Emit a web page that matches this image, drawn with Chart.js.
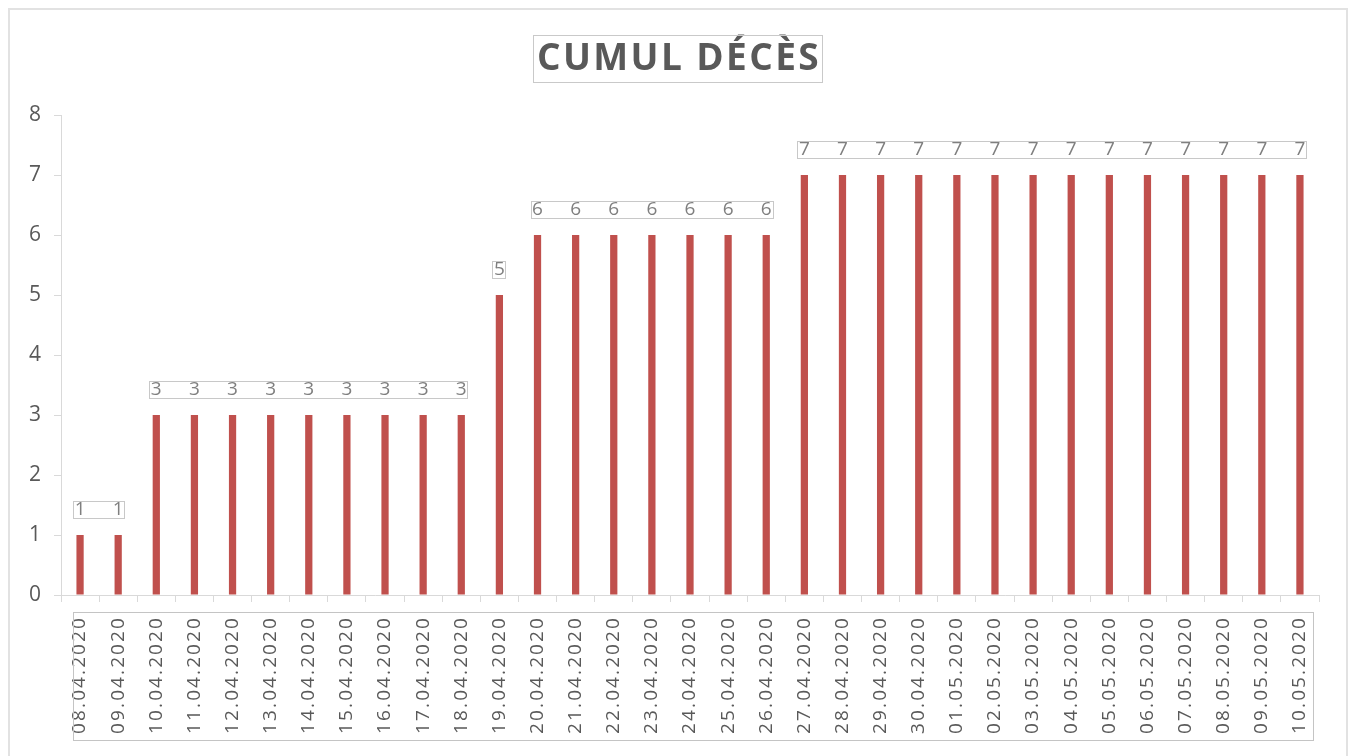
<!DOCTYPE html>
<html>
<head>
<meta charset="utf-8">
<script src="https://cdn.jsdelivr.net/npm/chart.js@4"></script>
<style>
  html, body { margin: 0; padding: 0; background: #ffffff; }
  #wrap { width: 1353px; height: 756px; position: relative; }
</style>
</head>
<body>
<div id="wrap"><canvas id="c"></canvas></div>
<script>
const TITLE = "CUMUL DÉCÈS";
const categories = [
  "08.04.2020","09.04.2020","10.04.2020","11.04.2020","12.04.2020","13.04.2020",
  "14.04.2020","15.04.2020","16.04.2020","17.04.2020","18.04.2020","19.04.2020",
  "20.04.2020","21.04.2020","22.04.2020","23.04.2020","24.04.2020","25.04.2020",
  "26.04.2020","27.04.2020","28.04.2020","29.04.2020","30.04.2020","01.05.2020",
  "02.05.2020","03.05.2020","04.05.2020","05.05.2020","06.05.2020","07.05.2020",
  "08.05.2020","09.05.2020","10.05.2020"
];
const deces = [
  1,1,3,3,3,3,3,3,3,3,3,5,6,6,6,6,6,6,6,7,7,7,7,7,7,7,7,7,7,7,7,7,7
];
const yTickMin = 0;
const yTickMax = 8;
const yTickStep = 1;

const decorPlugin = {
  id: 'decor',
  afterDraw(chart) {
    const ctx = chart.ctx;
    const xs = chart.scales.x, ys = chart.scales.y;
    ctx.save();
    // outer frame
    ctx.strokeStyle = '#e2e2e2';
    ctx.lineWidth = 2;
    ctx.strokeRect(9, 9, 1338, 770);

    // title
    ctx.font = 'bold 37px "Open Sans"';
    ctx.letterSpacing = '2.4px';
    ctx.fillStyle = '#595959';
    ctx.textAlign = 'center';
    ctx.textBaseline = 'middle';
    ctx.fillText(TITLE, 679, 59);
    ctx.letterSpacing = '0px';
    ctx.strokeStyle = '#c9c9c9';
    ctx.lineWidth = 1;
    ctx.strokeRect(533.5, 35.5, 289, 47);

    // x labels, rotated
    ctx.font = '19px "Open Sans"';
    ctx.letterSpacing = '2.1px';
    ctx.fillStyle = '#595959';
    ctx.textAlign = 'right';
    ctx.textBaseline = 'middle';
    const labTop = xs.top + 21;
    categories.forEach((lab, i) => {
      const x = xs.getPixelForValue(i);
      ctx.save();
      ctx.translate(x, labTop);
      ctx.rotate(-Math.PI / 2);
      ctx.fillText(lab, 0, 0);
      ctx.restore();
    });
    ctx.letterSpacing = '0px';
    ctx.strokeStyle = '#c4c4c4';
    ctx.lineWidth = 1;
    ctx.strokeRect(xs.left + 12.5, xs.top + 17.5, (xs.right - 6) - (xs.left + 12), 128);

    // data labels with group boxes
    ctx.font = '19px "Open Sans"';
    ctx.fillStyle = '#7f7f7f';
    ctx.textAlign = 'center';
    ctx.textBaseline = 'middle';
    let start = 0;
    for (let i = 0; i <= deces.length; i++) {
      if (i === deces.length || deces[i] !== deces[start]) {
        const v = deces[start];
        const y = ys.getPixelForValue(v) - 25;
        const x0 = xs.getPixelForValue(start);
        const x1 = xs.getPixelForValue(i - 1);
        ctx.strokeStyle = '#c8c8c8';
        ctx.strokeRect(Math.round(x0 - 7) + 0.5, Math.round(y - 9) + 0.5, Math.round(x1 - x0 + 13), 17);
        for (let k = start; k < i; k++) {
          ctx.fillText(String(deces[k]), xs.getPixelForValue(k), y);
        }
        start = i;
      }
    }
    ctx.restore();
  }
};

new Chart(document.getElementById('c'), {
  type: 'bar',
  data: {
    labels: categories,
    datasets: [{
      label: TITLE,
      data: deces,
      backgroundColor: '#c0504d',
      borderWidth: 0,
      barPercentage: 0.19,
      categoryPercentage: 1.0
    }]
  },
  options: {
    responsive: true,
    maintainAspectRatio: false,
    animation: false,
    layout: { padding: { left: 0, top: 115, right: 34, bottom: 0 } },
    plugins: {
      legend: { display: false },
      title: { display: false },
      tooltip: { enabled: false }
    },
    scales: {
      x: {
        offset: true,
        grid: { display: true, drawOnChartArea: false, drawTicks: true, tickLength: 7, color: '#d9d9d9', offset: true },
        border: { display: true, color: '#d9d9d9', width: 1 },
        ticks: { display: false },
        afterFit(scale) { scale.height = 161; }
      },
      y: {
        min: yTickMin,
        max: yTickMax,
        grid: { display: true, drawOnChartArea: false, drawTicks: true, tickLength: 7, color: '#d9d9d9' },
        border: { display: true, color: '#d9d9d9', width: 1 },
        ticks: {
          stepSize: yTickStep,
          color: '#595959',
          font: { family: '"Open Sans"', size: 21 },
          padding: 13
        },
        afterFit(scale) { scale.width = 61; }
      }
    }
  },
  plugins: [decorPlugin]
});
</script>
</body>
</html>
